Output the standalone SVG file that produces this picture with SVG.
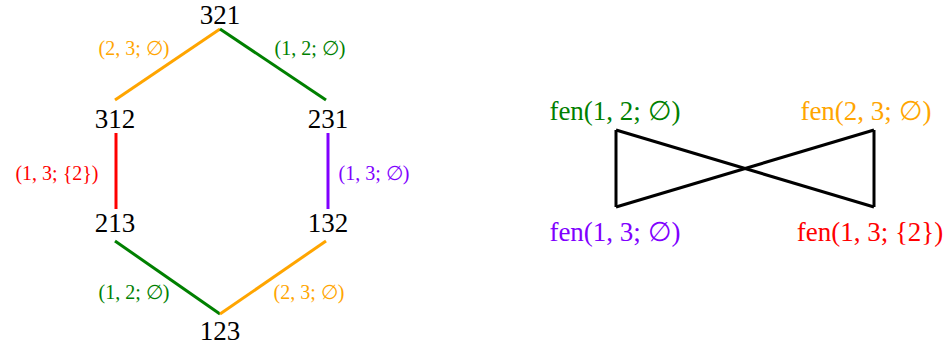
<svg xmlns="http://www.w3.org/2000/svg" width="952" height="352" viewBox="0 0 952 352">
<style>
.n{font-family:"Liberation Serif","DejaVu Serif",serif;font-size:27px;fill:#000;text-anchor:middle}
.l{font-family:"Liberation Serif","DejaVu Serif",serif;font-size:20px;text-anchor:middle}
.f{font-family:"Liberation Serif","DejaVu Serif",serif;font-size:27px;text-anchor:middle}
.e{stroke-width:3;fill:none;stroke-linecap:butt}
.or{fill:#FFA500}.gr{fill:#008000}.rd{fill:#FF0000}.pu{fill:#8000FF}
</style>
<rect width="952" height="352" fill="#fff"/>
<g id="connectors">
<line class="e" x1="220" y1="29" x2="115" y2="100" stroke="#FFA500"/>
<line class="e" x1="220" y1="29" x2="326" y2="100" stroke="#008000"/>
<line class="e" x1="116" y1="133" x2="116" y2="209" stroke="#FF0000"/>
<line class="e" x1="328" y1="133" x2="328" y2="209" stroke="#8000FF"/>
<line class="e" x1="115" y1="241" x2="220" y2="314" stroke="#008000"/>
<line class="e" x1="220" y1="314" x2="326" y2="241" stroke="#FFA500"/>
<line class="e" x1="616" y1="130" x2="616" y2="207" stroke="#000"/>
<line class="e" x1="616" y1="207" x2="874" y2="130" stroke="#000"/>
<line class="e" x1="874" y1="130" x2="874" y2="207" stroke="#000"/>
<line class="e" x1="616" y1="130" x2="874" y2="207" stroke="#000"/>
</g>
<g id="edge-labels">
<text class="l or" x="134" y="55">(2, 3; ∅)</text>
<text class="l gr" x="310" y="55">(1, 2; ∅)</text>
<text class="l rd" x="57" y="180">(1, 3; {2})</text>
<text class="l pu" x="374" y="180">(1, 3; ∅)</text>
<text class="l gr" x="134" y="299">(1, 2; ∅)</text>
<text class="l or" x="309" y="299">(2, 3; ∅)</text>
</g>
<g id="n321"><text class="n" x="220" y="24">321</text></g>
<g id="n312"><text class="n" x="115" y="128">312</text></g>
<g id="n231"><text class="n" x="328" y="128">231</text></g>
<g id="n213"><text class="n" x="115" y="232">213</text></g>
<g id="n132"><text class="n" x="328" y="232">132</text></g>
<g id="n123"><text class="n" x="220" y="340">123</text></g>
<g id="fen12"><text class="f gr" x="615" y="120">fen(1, 2; ∅)</text></g>
<g id="fen23"><text class="f or" x="866" y="120">fen(2, 3; ∅)</text></g>
<g id="fen13e"><text class="f pu" x="615" y="241">fen(1, 3; ∅)</text></g>
<g id="fen13"><text class="f rd" x="870" y="241">fen(1, 3; {2})</text></g>
</svg>
